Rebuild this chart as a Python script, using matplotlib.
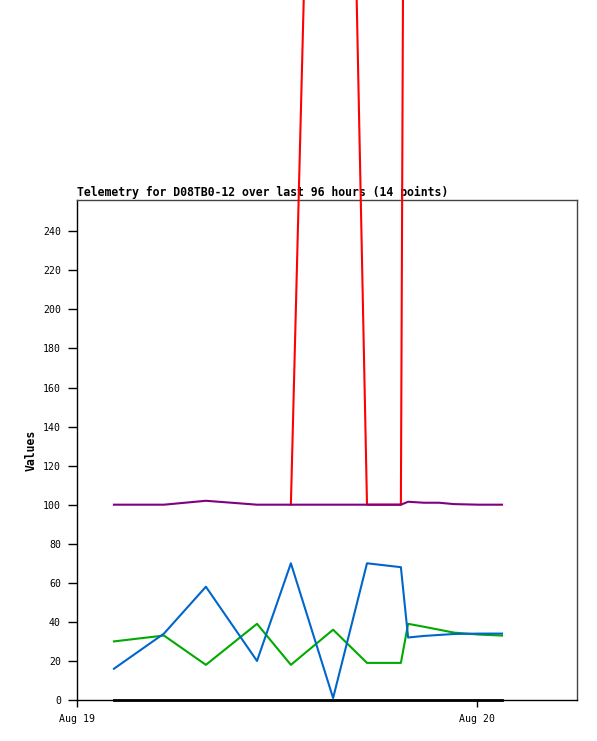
import datetime as dt
import matplotlib
matplotlib.use("Agg")
import matplotlib.pyplot as plt
import matplotlib.dates as mdates

nan = float("nan")

# sample times (Aug 19 / Aug 20) and telemetry values
times = ["08-19 02:13", "08-19 05:13", "08-19 07:44", "08-19 10:48", "08-19 12:50",
         "08-19 15:22", "08-19 17:24", "08-19 19:26", "08-19 19:52", "08-19 20:49",
         "08-19 21:43", "08-19 22:37", "08-20 00:07", "08-20 01:30"]
red_vals = [nan, nan, nan, nan, 100, 950, 100, 100, 1000, 1000, 1000, 1000, 1000, 1000]
purple_vals = [100, 100, 102, 100, 100, 100, 100, 100, 101.5, 101, 101, 100.3, 100, 100]
green_vals = [30, 33, 18, 39, 18, 36, 19, 19, 39, 37.5, 36, 34.5, 33.5, 33]
blue_vals = [16, 34, 58, 20, 70, 1, 70, 68, 32, 32.8, 33.3, 33.8, 34, 34]
black_vals = [0] * 14

x_ticks = ["08-19 00:00", "08-20 00:00"]
x_range = ["08-19 00:00", "08-20 06:00"]
y_ticks = list(range(0, 241, 20))
title = "Telemetry for D08TB0-12 over last 96 hours (14 points)"


def parse(s):
    return dt.datetime.strptime("2024-" + s, "%Y-%m-%d %H:%M")


mono = "DejaVu Sans Mono"
d = [parse(t) for t in times]

fig = plt.figure(figsize=(5.97, 7.41), dpi=100)
ax = fig.add_axes([77 / 597, 41 / 741, 500 / 597, 500 / 741])

# red spikes run off the top of the figure, so no clipping
ax.plot(d, red_vals, color="#ff0000", lw=1.5, clip_on=False, zorder=4)
ax.plot(d, purple_vals, color="#800080", lw=1.5, zorder=4.2)
ax.plot(d, black_vals, color="#000000", lw=2, clip_on=False, zorder=4.3)
ax.plot(d, green_vals, color="#00aa00", lw=1.5, zorder=4.4)
ax.plot(d, blue_vals, color="#0066cc", lw=1.5, zorder=4.5)

ax.set_xlim(parse(x_range[0]), parse(x_range[1]))
ax.set_ylim(0, 256)
ax.set_xticks([parse(t) for t in x_ticks])
ax.xaxis.set_major_formatter(mdates.DateFormatter("%b %d"))
ax.set_yticks(y_ticks)

ax.tick_params(axis="y", direction="out", length=6.5, width=1, pad=5,
               labelsize=7.1, colors="black")
ax.tick_params(axis="x", direction="out", length=5, width=1, pad=5,
               labelsize=7.1, colors="black")
for lab in ax.get_xticklabels() + ax.get_yticklabels():
    lab.set_family(mono)

for side, sp in ax.spines.items():
    sp.set_linewidth(1)
    sp.set_color("black" if side in ("left", "bottom") else "#444444")

ax.set_title(title, loc="left", fontsize=8.3, fontweight="bold", family=mono, pad=3)
ax.set_ylabel("Values", fontsize=8.3, fontweight="bold", family=mono, labelpad=4)

fig.savefig("out.png", dpi=100)
